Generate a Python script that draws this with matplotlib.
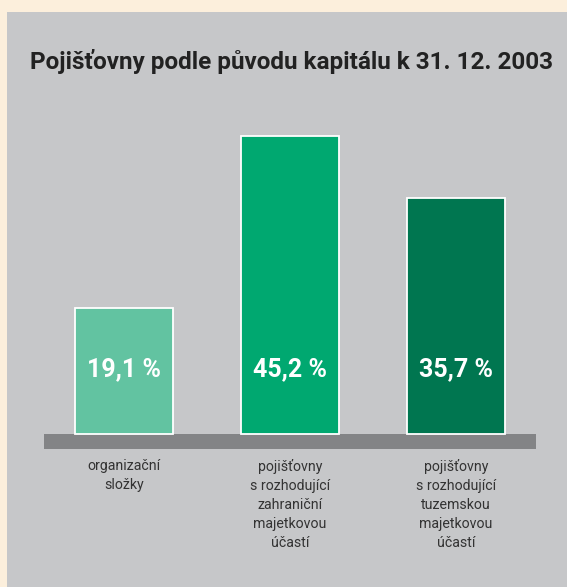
import matplotlib
matplotlib.use('Agg')
import matplotlib.pyplot as plt
from matplotlib.patches import Rectangle

title = 'Pojišťovny podle původu kapitálu k 31. 12. 2003'
categories = ['organizační\nsložky',
              'pojišťovny\ns rozhodující\nzahraniční\nmajetkovou\núčastí',
              'pojišťovny\ns rozhodující\ntuzemskou\nmajetkovou\núčastí']
shares = [19.1, 45.2, 35.7]
value_labels = ['19,1 %', '45,2 %', '35,7 %']
colors = ['#62c3a1', '#00a870', '#007650']

W, H = 567, 587
fig = plt.figure(figsize=(W / 100, H / 100), dpi=100)
fig.patch.set_facecolor('#fcefdc')

ax = fig.add_axes([0, 0, 1, 1])
ax.set_facecolor('none')
px = 6.6          # pixels per percent
step = 166        # pixels between bar centres
x0, base = 124, 434
ax.set_xlim(-x0 / step, (W - x0) / step)
ax.set_ylim(-(H - base) / px, base / px)
ax.axis('off')

# grey panel
ax.add_patch(Rectangle((7 / W, 0), 1, 1 - 12 / H, transform=ax.transAxes,
                       facecolor='#c6c7c9', edgecolor='none', zorder=0))

# baseline band
ax.add_patch(Rectangle(((44 - x0) / step, -15 / px), (536 - 44) / step, 15 / px,
                       facecolor='#838486', edgecolor='none', zorder=1))

xs = range(len(shares))
ax.bar(xs, shares, width=0.585, color=colors, edgecolor='white', linewidth=1.3, zorder=2)

for x, lab in zip(xs, value_labels):
    ax.text(x, (base - 369) / px, lab, ha='center', va='center', color='white',
            fontsize=18, fontweight='bold', family='Roboto', zorder=3)

for x, cat in zip(xs, categories):
    ax.text(x, (base - 459) / px, cat, ha='center', va='top', color='#333333',
            fontsize=10.2, family='Roboto', linespacing=1.45)

ax.text(0.514, 1 - 61 / H, title, transform=ax.transAxes, ha='center', va='center',
        color='#222222', fontsize=17.5, fontweight='bold', family='Roboto')

fig.savefig('out.png', dpi=100, facecolor=fig.get_facecolor())
